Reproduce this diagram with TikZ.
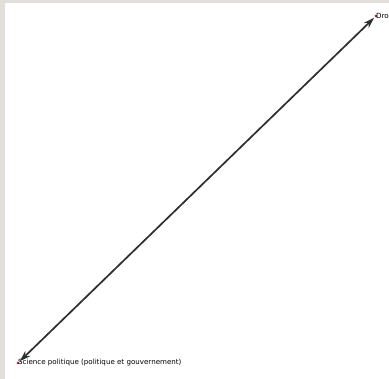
\documentclass[tikz,border=0pt]{standalone}
\usepackage{fontspec}
\setmainfont{DejaVu Sans}
\usepackage{xcolor}
\usetikzlibrary{arrows.meta, positioning}

\definecolor{frame}{HTML}{E2DFD8}
\definecolor{edge}{HTML}{2E2E2E}

\begin{document}
\begin{tikzpicture}[x=1pt, y=-1pt, >={Stealth[length=11pt, width=7pt]},
        dot/.style={circle, fill=red!85!black, inner sep=0pt, minimum size=2.8pt},
        lbl/.style={inner sep=0pt, font=\fontsize{7.1}{8}\selectfont, anchor=west},
        link/.style={<->, draw=edge, line width=1.7pt, shorten <=1pt, shorten >=1pt}]
        \useasboundingbox (0,0) rectangle (389,379);
        \clip (0,0) rectangle (389,379);
        \fill[frame] (0,0) rectangle (389,379);
        \fill[white] (5,3) rectangle (389,379);
        
        \node (sp) [dot] at (18,363) {};
        \node (dr) [dot] at (376,16) {};
        \node (sptxt) [lbl, right=0pt of sp.center] {Science politique (politique et gouvernement)};
        \node (drtxt) [lbl, right=0pt of dr.center] {Droit};
        
        \draw[link] (sp) -- (dr);
    \end{tikzpicture}
\end{document}
